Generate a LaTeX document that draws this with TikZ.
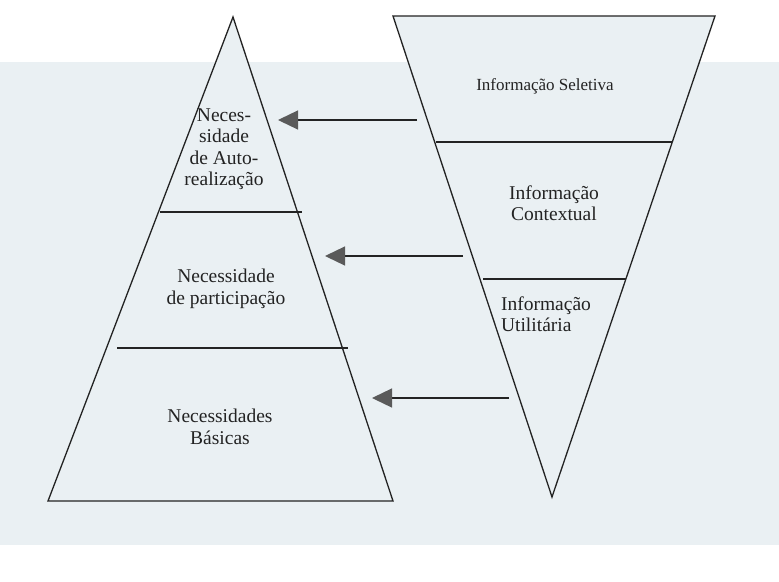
\documentclass[tikz,border=0pt]{standalone}
\usepackage{fontspec}
\setmainfont{Liberation Serif}
\usetikzlibrary{arrows.meta}
\definecolor{ink}{RGB}{35,35,35}
\definecolor{paper}{RGB}{234,240,243}
\definecolor{headgray}{RGB}{90,90,90}
\begin{document}
\begin{tikzpicture}[x=1pt,y=-1pt,
  edge/.style={draw=ink,line width=1.3pt,line join=miter},
  divider/.style={draw=ink,line width=1.3pt},
  arr/.style={draw=ink,line width=1.3pt,-{Triangle[length=20pt,width=19pt,fill=headgray,color=headgray]}},
  lbl/.style={font=\fontsize{19.5}{21.5}\selectfont,align=center,text=ink,inner sep=0pt},
  lblsmall/.style={font=\fontsize{17}{20}\selectfont,align=center,text=ink,inner sep=0pt}]
\useasboundingbox (0,0) rectangle (779,581);
\fill[white] (0,0) rectangle (779,581);
\fill[paper] (0,62) rectangle (779,545);
% left pyramid
\coordinate (apex) at (233,17);
\coordinate (bl) at (48,501);
\coordinate (br) at (393,501);
\fill[paper] (apex) -- (bl) -- (br) -- cycle;
\draw[edge] (apex) -- (bl) -- (br) -- cycle;
\coordinate (d1l) at (160,212);
\coordinate (d1r) at (302,212);
\coordinate (d2l) at (117,348);
\coordinate (d2r) at (348,348);
\draw[divider] (d1l) -- (d1r);
\draw[divider] (d2l) -- (d2r);
% inverted pyramid
\coordinate (tl) at (393,16);
\coordinate (tr) at (715,16);
\coordinate (bot) at (552,497);
\fill[paper] (tl) -- (tr) -- (bot) -- cycle;
\draw[edge] (tl) -- (tr) -- (bot) -- cycle;
\coordinate (e1l) at (436,142);
\coordinate (e1r) at (672,142);
\coordinate (e2l) at (483,279);
\coordinate (e2r) at (626,279);
\draw[divider] (e1l) -- (e1r);
\draw[divider] (e2l) -- (e2r);
% arrows
\coordinate (a1s) at (417,120);
\coordinate (a1e) at (278,120);
\coordinate (a2s) at (463,256);
\coordinate (a2e) at (325,256);
\coordinate (a3s) at (509,398);
\coordinate (a3e) at (372,398);
\draw[arr] (a1s) -- (a1e);
\draw[arr] (a2s) -- (a2e);
\draw[arr] (a3s) -- (a3e);
% labels
\node[lbl] (auto) at (224,149) {Neces-\\sidade\\de Auto-\\realização};
\node[lbl] (part) at (226,289) {Necessidade\\de participação};
\node[lbl] (basic) at (220,427) {Necessidades\\Básicas};
\node[lblsmall] (sel) at (545,86) {Informação Seletiva};
\node[lbl] (cont) at (554,203) {Informação\\Contextual};
\node[lbl,align=left] (util) at (546,314) {Informação\\Utilitária};
\end{tikzpicture}
\end{document}
